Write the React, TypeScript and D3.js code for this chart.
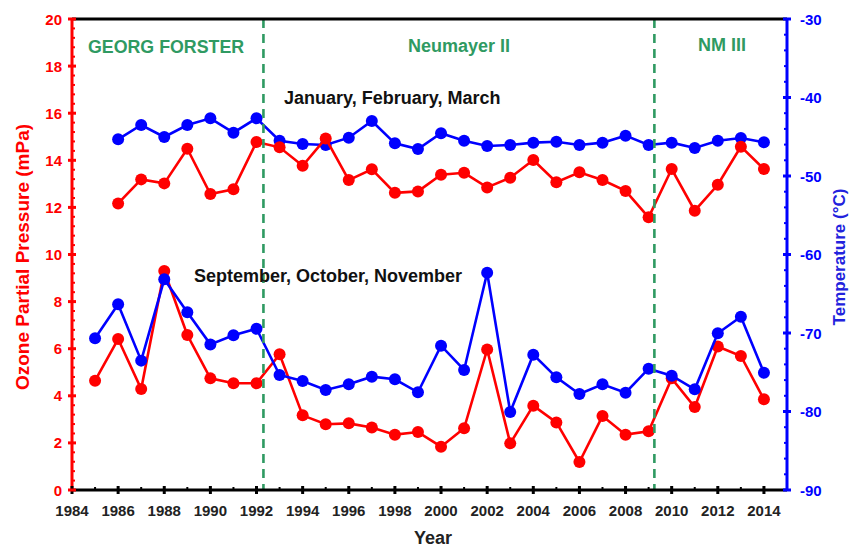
import React from 'react';
import * as d3 from 'd3';

const jfmYears = [1986, 1987, 1988, 1989, 1990, 1991, 1992, 1993, 1994, 1995, 1996, 1997, 1998, 1999, 2000, 2001, 2002, 2003, 2004, 2005, 2006, 2007, 2008, 2009, 2010, 2011, 2012, 2013, 2014];
const jfmOzone = [12.17, 13.19, 13.02, 14.49, 12.57, 12.77, 14.78, 14.55, 13.77, 14.93, 13.16, 13.62, 12.62, 12.68, 13.39, 13.47, 12.85, 13.26, 14.01, 13.07, 13.49, 13.16, 12.7, 11.58, 13.63, 11.86, 12.96, 14.58, 13.63];
const jfmTemp = [-45.33, -43.5, -45.03, -43.5, -42.65, -44.48, -42.65, -45.5, -45.92, -46.05, -45.12, -42.99, -45.84, -46.56, -44.56, -45.5, -46.18, -46.05, -45.75, -45.63, -46.05, -45.75, -44.86, -46.05, -45.75, -46.43, -45.5, -45.16, -45.71];

const sonYears = [1985, 1986, 1987, 1988, 1989, 1990, 1991, 1992, 1993, 1994, 1995, 1996, 1997, 1998, 1999, 2000, 2001, 2002, 2003, 2004, 2005, 2006, 2007, 2008, 2009, 2010, 2011, 2012, 2013, 2014];
const sonOzone = [4.64, 6.41, 4.29, 9.3, 6.58, 4.74, 4.53, 4.53, 5.76, 3.17, 2.79, 2.83, 2.65, 2.35, 2.46, 1.84, 2.62, 5.97, 1.98, 3.58, 2.87, 1.19, 3.14, 2.35, 2.49, 4.74, 3.52, 6.09, 5.69, 3.85];
const sonTemp = [-70.68, -66.35, -73.52, -63.16, -67.37, -71.45, -70.3, -69.45, -75.35, -76.11, -77.26, -76.54, -75.56, -75.9, -77.55, -71.61, -74.71, -62.32, -80.06, -72.76, -75.65, -77.77, -76.54, -77.6, -74.55, -75.44, -77.17, -70.04, -67.92, -75.06];

const yearTicks = [1984, 1986, 1988, 1990, 1992, 1994, 1996, 1998, 2000, 2002, 2004, 2006, 2008, 2010, 2012, 2014];
const ozoneTicks = [0, 2, 4, 6, 8, 10, 12, 14, 16, 18, 20];
const tempTicks = [-90, -80, -70, -60, -50, -40, -30];
const stationBoundaries = [1992.3, 2009.25];
const stationNames = ['GEORG FORSTER', 'Neumayer II', 'NM III'];
const seasonNames = ['January, February, March', 'September, October, November'];

const FONT = '"Liberation Sans", Arial, sans-serif';
const RED = '#ff0000';
const BLUE = '#0000ff';
const GREEN = '#2f9a62';

export default function App() {
  const L = 72, R = 787, T = 19, B = 490;
  const x = d3.scaleLinear().domain([1984, 2015]).range([L, R]);
  const yO = d3.scaleLinear().domain([0, 20]).range([B, T]);
  const yT = d3.scaleLinear().domain([-90, -30]).range([B, T]);

  const lineO = d3.line<[number, number]>().x(d => x(d[0])).y(d => yO(d[1]));
  const lineT = d3.line<[number, number]>().x(d => x(d[0])).y(d => yT(d[1]));

  const jfmO = jfmYears.map((yr, i) => [yr, jfmOzone[i]] as [number, number]);
  const jfmT = jfmYears.map((yr, i) => [yr, jfmTemp[i]] as [number, number]);
  const sonO = sonYears.map((yr, i) => [yr, sonOzone[i]] as [number, number]);
  const sonT = sonYears.map((yr, i) => [yr, sonTemp[i]] as [number, number]);

  const series = (pts: [number, number][], line: any, yS: any, color: string, key: string) => (
    <g key={key}>
      <path d={line(pts)} fill="none" stroke={color} strokeWidth={2.6} />
      {pts.map((p, i) => (
        <circle key={i} cx={x(p[0])} cy={yS(p[1])} r={6} fill={color} />
      ))}
    </g>
  );

  const minorO = d3.range(0, 20.001, 0.4).filter(v => Math.abs(v / 2 - Math.round(v / 2)) > 1e-6);
  const minorT = d3.range(-90, -29.99, 2).filter(v => v % 10 !== 0);
  const minorX = d3.range(1985, 2015, 2);

  return (
    <svg width={857} height={548} style={{ position: 'absolute', left: 0, top: 0, background: '#fff' }} fontFamily={FONT}>
      <rect x={0} y={0} width={857} height={548} fill="#fff" />
      {series(sonO, lineO, yO, RED, 'sonO')}
      {series(sonT, lineT, yT, BLUE, 'sonT')}
      {series(jfmT, lineT, yT, BLUE, 'jfmT')}
      {series(jfmO, lineO, yO, RED, 'jfmO')}

      {stationBoundaries.map((b, i) => (
        <line key={i} x1={x(b)} x2={x(b)} y1={T} y2={B} stroke={GREEN} strokeWidth={2.6} strokeDasharray="9,6" />
      ))}

      {/* frame */}
      <line x1={L} x2={R} y1={T} y2={T} stroke="#000" strokeWidth={3} />
      <line x1={L} x2={R} y1={B} y2={B} stroke="#000" strokeWidth={3} />
      <line x1={L} x2={L} y1={T} y2={B} stroke={RED} strokeWidth={3} />
      <line x1={R} x2={R} y1={T} y2={B} stroke={BLUE} strokeWidth={3} />

      {/* x ticks */}
      {yearTicks.map(t => (
        <g key={t}>
          <line x1={x(t)} x2={x(t)} y1={B - 4} y2={B + 4} stroke="#000" strokeWidth={3} />
          <text x={x(t)} y={510} textAnchor="middle" dominantBaseline="central" fontSize={15} fontWeight="bold" fill="#222">{t}</text>
        </g>
      ))}
      {minorX.map(t => (
        <line key={t} x1={x(t)} x2={x(t)} y1={B - 3} y2={B} stroke="#000" strokeWidth={2} />
      ))}

      {/* left ticks */}
      {ozoneTicks.map(t => (
        <g key={t}>
          <line x1={L - 4} x2={L + 4} y1={yO(t)} y2={yO(t)} stroke={RED} strokeWidth={3} />
          <text x={62} y={yO(t)} textAnchor="end" dominantBaseline="central" fontSize={15} fontWeight="bold" fill={RED}>{t}</text>
        </g>
      ))}
      {minorO.map((t, i) => (
        <line key={i} x1={L} x2={L + 3} y1={yO(t)} y2={yO(t)} stroke={RED} strokeWidth={2} />
      ))}

      {/* right ticks */}
      {tempTicks.map(t => (
        <g key={t}>
          <line x1={R - 4} x2={R + 4} y1={yT(t)} y2={yT(t)} stroke={BLUE} strokeWidth={3} />
          <text x={800} y={yT(t)} textAnchor="start" dominantBaseline="central" fontSize={15} fontWeight="bold" fill={BLUE}>{t}</text>
        </g>
      ))}
      {minorT.map((t, i) => (
        <line key={i} x1={R - 3} x2={R} y1={yT(t)} y2={yT(t)} stroke={BLUE} strokeWidth={2} />
      ))}

      {/* axis titles */}
      <text transform="translate(22,257) rotate(-90)" textAnchor="middle" dominantBaseline="central" fontSize={19} fontWeight="bold" fill={RED}>Ozone Partial Pressure (mPa)</text>
      <text transform="translate(839,257) rotate(-90)" textAnchor="middle" dominantBaseline="central" fontSize={17} fontWeight="bold" fill="#2222dd">Temperature (°C)</text>
      <text x={433} y={538} textAnchor="middle" dominantBaseline="central" fontSize={18} fontWeight="bold" fill="#222">Year</text>

      {/* station labels */}
      <text x={88} y={47} dominantBaseline="central" fontSize={17.8} fontWeight="bold" fill={GREEN}>{stationNames[0]}</text>
      <text x={459} y={46} textAnchor="middle" dominantBaseline="central" fontSize={18} fontWeight="bold" fill={GREEN}>{stationNames[1]}</text>
      <text x={722} y={45} textAnchor="middle" dominantBaseline="central" fontSize={18} fontWeight="bold" fill={GREEN}>{stationNames[2]}</text>

      {/* season labels */}
      <text x={284} y={98} dominantBaseline="central" fontSize={18} fontWeight="bold" fill="#111">{seasonNames[0]}</text>
      <text x={194} y={276} dominantBaseline="central" fontSize={18} fontWeight="bold" fill="#111">{seasonNames[1]}</text>
    </svg>
  );
}
